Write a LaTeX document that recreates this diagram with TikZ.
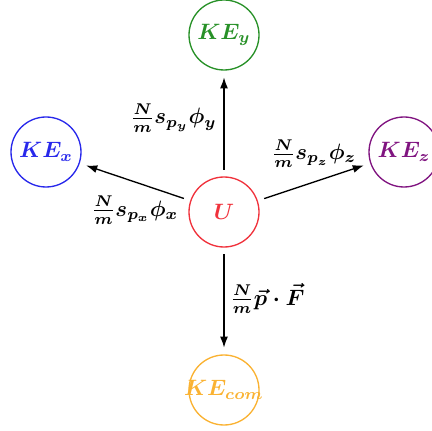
\documentclass[tikz,border=0pt]{standalone}
\usetikzlibrary{arrows.meta}
\definecolor{cgreen}{RGB}{40,145,40}
\definecolor{cblue}{RGB}{40,40,235}
\definecolor{cred}{RGB}{240,50,60}
\definecolor{cpurple}{RGB}{128,20,128}
\definecolor{corange}{RGB}{250,178,50}
\begin{document}
\begin{tikzpicture}[x=0.45pt,y=-0.45pt,
  state/.style={circle,draw,semithick,minimum size=31.5pt,inner sep=0pt,font=\boldmath},
  flow/.style={-{Latex[length=5pt,width=3.6pt]},semithick,shorten >=3pt,shorten <=3pt},
  lab/.style={font=\boldmath,inner sep=2pt}]
\useasboundingbox (0,0) rectangle (432,431);
\node[state,cred] (U) at (224,212) {$U$};
\node[state,cgreen] (y) at (224,35) {$KE_y$};
\node[state,cblue] (x) at (46,152) {$KE_x$};
\node[state,cpurple] (z) at (404,152) {$KE_z$};
\node[state,corange] (c) at (224,390) {\makebox[0pt]{$KE_{com}$}};
\draw[flow] (U) -- node[lab,left,xshift=-1pt,yshift=2.5pt] {$\frac{N}{m}s_{p_y}\phi_y$} (y);
\draw[flow] (U) -- node[lab,below,yshift=-4pt] {$\frac{N}{m}s_{p_x}\phi_x$} (x);
\draw[flow] (U) -- node[lab,above,yshift=4pt] {$\frac{N}{m}s_{p_z}\phi_z$} (z);
\draw[flow] (U) -- node[lab,right,xshift=0.5pt,yshift=1pt] {$\frac{N}{m}\vec{p}\cdot\vec{F}$} (c);
\end{tikzpicture}
\end{document}
